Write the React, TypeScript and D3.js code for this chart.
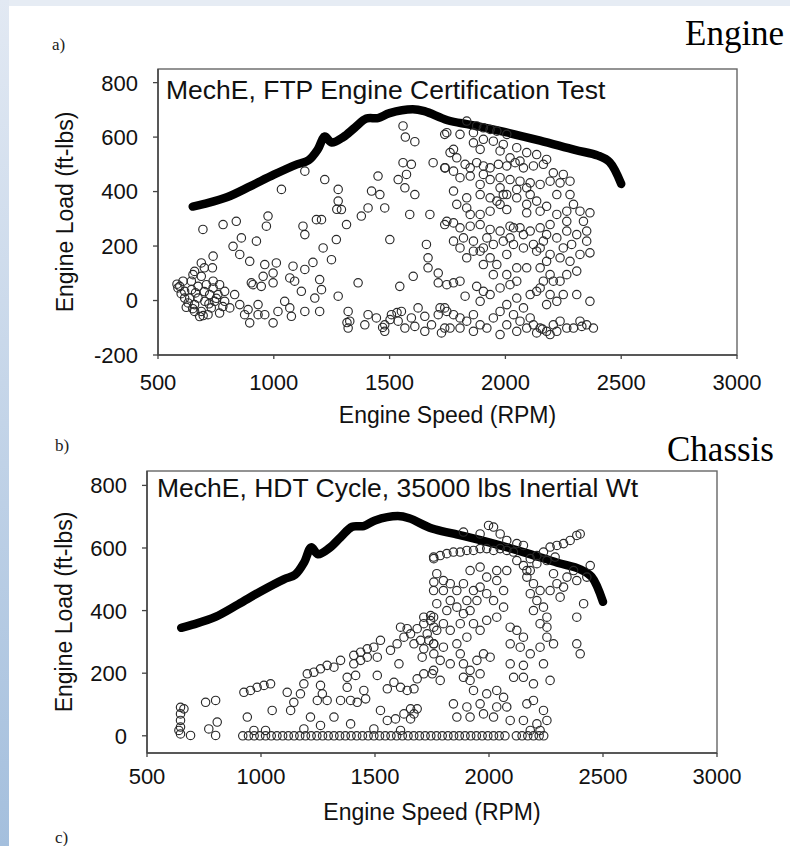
import React from 'react';
import * as d3 from 'd3';

type P = [number, number];

const xTicks = [500, 1000, 1500, 2000, 2500, 3000];
const yTicksA = [-200, 0, 200, 400, 600, 800];
const yTicksB = [0, 200, 400, 600, 800];

// full-load torque envelope (rpm, ft-lbs)
const envelope: P[] = [
  [650, 345], [700, 355], [800, 380], [900, 420], [1000, 462], [1100, 500], [1150, 515],
  [1190, 555], [1220, 602], [1250, 580], [1300, 600], [1350, 635], [1400, 668], [1450, 670],
  [1500, 688], [1600, 702], [1650, 695], [1750, 662], [1850, 645], [2000, 618], [2150, 587],
  [2300, 553], [2400, 532], [2450, 508], [2500, 428],
];

// FTP engine certification test points
const ftpPoints: P[] = [
  [1558, 641], [1568, 600], [1609, 583], [1558, 506], [1594, 500], [1573, 463], [1537, 444], [1566, 414],
  [1609, 389], [1688, 506], [1738, 487], [1450, 457], [1422, 402], [1458, 389], [1479, 340], [1407, 340],
  [1378, 310], [1587, 316], [1674, 316], [1738, 279], [1220, 444], [1278, 408], [1278, 365], [1292, 334],
  [1314, 279], [1270, 224], [1213, 193], [1249, 150], [1206, 297], [1184, 297], [1134, 475], [1033, 408],
  [975, 310], [968, 273], [1126, 273], [1134, 242], [838, 291], [781, 279], [694, 261], [860, 230],
  [824, 199], [853, 169], [925, 218], [738, 163], [687, 138], [658, 107], [896, 144], [961, 132],
  [1011, 138], [954, 89], [997, 101], [997, 65], [910, 58], [1083, 126], [1134, 114], [1069, 83],
  [1090, 71], [1119, 34], [1198, 77], [1206, 40], [1177, 9], [1198, -40], [1134, -40], [1076, -58],
  [1047, -3], [1069, -27], [1018, -40], [997, -82], [896, -82], [1364, 65], [1278, 16], [1544, 52],
  [1602, 89], [1666, 120], [1710, 101], [1710, 65], [1659, 206], [1666, 157], [1501, 224], [1169, 140],
  [1272, 335],
  [594, 52], [615, 34], [637, 9], [658, -15], [687, -40], [716, -52], [608, 71], [644, 71],
  [673, 52], [709, 58], [738, 46], [759, 22], [788, -3], [810, -27], [831, 22], [673, 9],
  [702, -3], [730, -27], [766, -46], [651, 95], [687, 89], [738, 71], [766, 58], [788, 34],
  [630, -9], [658, -40], [745, -3], [723, 22], [586, 46], [615, 9], [853, -15], [889, -33],
  [932, -15], [961, -52], [932, -52], [874, -52], [903, 65], [946, 52], [582, 60], [680, -59],
  [600, 25], [622, -25], [645, 40], [662, 28], [700, 33], [720, -12], [752, 8], [780, -22],
  [695, -55], [650, -30], [700, 120], [735, 120],
  [1321, -40], [1328, -76], [1321, -101], [1407, -52], [1443, -64], [1479, -89], [1508, -52], [1537, -76],
  [1566, -101], [1594, -64], [1623, -27], [1652, -58], [1681, -89], [1710, -52], [1738, -27], [1738, -101],
  [1724, -119], [1479, -113], [1393, -89], [1609, -95], [1652, -113], [1551, -40], [1738, 610], [1316, -81],
  [1470, -99], [1502, -70], [1532, -44],
  [1833, 659], [1876, 641], [1905, 634], [1934, 628], [1963, 622], [2006, 610], [1862, 616], [1804, 610],
  [1747, 616], [1905, 592], [1862, 579], [1948, 585], [1991, 573], [2049, 561], [2092, 543], [2135, 536],
  [2178, 518], [2063, 512], [2020, 524], [1977, 549], [1891, 555],
  [1776, 555], [1761, 543], [1740, 487], [1776, 475], [1826, 500], [1848, 487], [1876, 506], [1905, 494],
  [1934, 487], [1970, 500], [2006, 494], [2042, 506], [2078, 487], [2121, 494], [2164, 500], [2207, 469],
  [2250, 463], [2236, 432], [2193, 438], [2150, 426], [2107, 432], [2063, 438], [2020, 444], [1977, 451],
  [1934, 444], [1891, 426], [1848, 457], [1804, 451], [1776, 402], [1833, 377], [1891, 389], [1934, 377],
  [1963, 365], [2006, 389], [2049, 377], [2092, 353], [2135, 365], [2178, 346], [2279, 389], [2294, 353],
  [2322, 328], [2365, 322], [2265, 328], [2222, 316], [2092, 322], [2006, 334], [1977, 353], [1934, 328],
  [1891, 316], [1833, 340], [1790, 353], [1747, 291], [1776, 285], [1804, 267], [1848, 273], [1891, 279],
  [1934, 261], [1977, 255], [2020, 273], [2063, 267], [2107, 255], [2150, 267], [2178, 242], [2222, 230],
  [2265, 255], [2308, 242], [2351, 255], [2164, 218], [2121, 206], [2078, 193], [2035, 206], [1991, 218],
  [1948, 206], [1905, 193], [1862, 218], [1819, 230], [1776, 218], [1833, 157], [1862, 181], [1934, 157],
  [1905, 132], [1963, 132], [2006, 169], [2049, 120], [2006, 95], [2135, 181], [2193, 169], [2236, 157],
  [2279, 144], [2322, 169], [2365, 175], [2250, 193], [2351, 218], [2150, 120], [2193, 95], [2236, 71],
  [2265, 95], [2164, 71], [2135, 34], [2193, 22], [2222, -3], [2178, -15], [2308, 22], [2365, -3],
  [1747, 58], [1776, 65], [1804, 71], [1876, 52], [1905, 34], [1826, 16], [1891, -3], [1934, 22],
  [1977, 46], [2020, 58], [2049, 9], [2107, 22],
  [1790, 524], [1905, 463], [1977, 414], [2049, 408], [2107, 389], [2150, 328], [2222, 389], [2279, 438],
  [2193, 279], [2150, 193], [2078, 242], [2020, 230], [1920, 230], [1848, 316], [1804, 193], [1891, 181],
  [1948, 95], [2049, 71], [2092, 120], [2178, 144], [2308, 108], [2286, 206], [2337, 291], [2265, 291],
  [2092, 414], [1991, 389], [2035, 267], [2207, 71], [2250, 22], [2150, 46],
  [1718, -27], [1747, -40], [1776, -52], [1804, -64], [1833, -76], [1862, -52], [1891, -89], [1920, -101],
  [1948, -64], [1977, -40], [2006, -89], [2035, -52], [2063, -76], [2092, -101], [2121, -89], [2150, -101],
  [2178, -113], [2207, -89], [2236, -76], [2265, -101], [2351, -89], [2380, -101], [1761, -101], [1804, -101],
  [1862, -113], [1977, -125], [2049, -113], [2193, -125], [2222, -113], [2135, -119], [2330, -95], [2160, -105],
  [2078, -27], [2006, -15], [2107, -64], [2322, -76], [2294, -101],
];

// HDT chassis cycle points, row at zero load
const hdtZeroRow: P[] = [
  [920, 0], [945, 0], [970, 0], [995, 0], [1020, 0], [1045, 0], [1070, 0], [1095, 0], [1120, 0],
  [1145, 0], [1170, 0], [1195, 0], [1220, 0], [1245, 0], [1270, 0], [1295, 0], [1320, 0], [1345, 0],
  [1370, 0], [1395, 0], [1420, 0], [1445, 0], [1470, 0], [1495, 0], [1520, 0], [1545, 0], [1570, 0],
  [1595, 0], [1620, 0], [1645, 0], [1670, 0], [1695, 0], [1720, 0], [1745, 0], [1770, 0], [1795, 0],
  [1820, 0], [1845, 0], [1870, 0], [1895, 0], [1920, 0], [1945, 0], [1970, 0], [1995, 0], [2020, 0],
  [2045, 0], [2070, 0], [2120, 0], [2145, 0], [2170, 0], [2195, 0], [2220, 0], [2240, 0],
];

// HDT chassis cycle points, remaining
const hdtPoints: P[] = [
  [647, 91], [647, 70], [647, 49], [647, 28], [647, 6], [662, 86], [640, 17], [691, 1], [757, 107],
  [801, 113], [771, 22], [808, 44], [801, 1], [925, 139], [954, 145], [983, 155], [1013, 161], [1042, 166],
  [940, 60], [1049, 81], [1115, 139], [1144, 107], [1130, 81], [1173, 134], [1188, 166], [1203, 198],
  [1232, 203], [1261, 214], [1290, 225], [1320, 219], [1349, 241], [1261, 161], [1269, 134], [1290, 113],
  [1247, 113], [1217, 60], [1320, 60], [1349, 113], [1393, 113], [1422, 107], [1459, 118], [1451, 145],
  [1378, 187], [1415, 193], [1378, 155], [1407, 257], [1437, 267], [1466, 278], [1495, 283], [1524, 305],
  [1510, 251], [1466, 251], [1437, 241], [1407, 230], [1510, 193], [1554, 150], [1583, 171], [1612, 155],
  [1641, 145], [1671, 150], [1685, 182], [1568, 273], [1597, 294], [1627, 315], [1656, 326], [1685, 342],
  [1714, 358], [1744, 368], [1758, 347], [1729, 326], [1700, 305], [1714, 278], [1671, 294], [1641, 342],
  [1612, 347], [1605, 230], [1714, 198], [1751, 198], [1758, 566], [1758, 491], [1524, 81], [1554, 49],
  [1590, 54], [1627, 70], [1656, 86], [1685, 86], [1656, 54], [1671, 70], [969, 17], [1020, 17],
  [1188, 22], [1261, 33], [1393, 38], [1495, 22], [1612, 17], [1714, 379], [1744, 384], [1736, 305],
  [1758, 294], [1758, 262], [1707, 251],
  [1757, 571], [1786, 576], [1815, 582], [1844, 587], [1874, 587], [1903, 592], [1932, 592], [1961, 598],
  [1990, 598], [2020, 592], [2049, 598], [2078, 592], [2107, 587], [1888, 651], [1961, 645], [1998, 672],
  [2020, 667], [2049, 645], [2078, 624], [2122, 614], [2151, 608], [2181, 566], [2210, 576], [2239, 587],
  [2268, 603], [2298, 608], [2327, 614], [2356, 624], [2385, 640], [2400, 645], [2210, 550], [2254, 560],
  [2290, 571], [2122, 560], [2151, 544], [2166, 528], [2444, 544], [2429, 507], [2385, 496],
  [1771, 518], [1800, 496], [1757, 464], [1800, 464], [1830, 432], [1771, 422], [1815, 400], [1757, 379],
  [1800, 358], [1771, 337], [1830, 337], [1874, 358], [1888, 390], [1859, 411], [1903, 432], [1932, 464],
  [1961, 475], [1990, 454], [1947, 432], [1917, 400], [1932, 358], [1961, 337], [1903, 315], [1859, 294],
  [1800, 283], [1757, 294], [1786, 241], [1757, 209], [1786, 177], [1830, 230], [1874, 262], [1888, 230],
  [1917, 209], [1947, 241], [1976, 262], [2005, 251], [1961, 198], [1917, 177], [1888, 187], [1932, 145],
  [1990, 134], [2034, 145], [2064, 123], [2034, 92], [2078, 92], [1961, 102], [1903, 92], [1844, 102],
  [1859, 60], [1917, 60], [1976, 70], [2020, 60], [2093, 49], [2151, 49], [2166, 102], [2195, 113],
  [2239, 81], [2254, 49], [2210, 38], [2093, 347], [2122, 337], [2151, 315], [2093, 294], [2137, 283],
  [2181, 262], [2224, 283], [2283, 294], [2254, 315], [2093, 230], [2151, 225], [2195, 166], [2268, 177],
  [2108, 187], [2151, 187], [2385, 294], [2400, 262], [2415, 422], [2385, 379], [2239, 230], [2166, 507],
  [2195, 486], [2224, 464], [2181, 454], [2210, 432], [2239, 411], [2195, 400], [2254, 379], [2224, 358],
  [2254, 347], [2181, 528], [2283, 518], [2298, 486], [2327, 475], [2268, 464], [2312, 443], [2342, 507],
  [2371, 528], [2034, 496], [2064, 464], [2020, 432], [2064, 411], [2034, 379], [1990, 369], [2078, 528],
  [2034, 528], [1917, 528], [1961, 539], [1990, 507], [1859, 464], [1888, 486], [1830, 486], [2224, 17],
  [2181, 17],
];

const SANS = '"Liberation Sans", Arial, sans-serif';
const SERIF = '"Liberation Serif", "Times New Roman", serif';

interface PanelProps {
  left: number; right: number; top: number; bottom: number;
  yDomain: [number, number]; yTicks: number[];
  title: string; titleX: number; titleY: number;
  points: P[]; tickBaseline: number; xLabelBaseline: number; yLabelX: number;
}

function Panel(p: PanelProps) {
  const x = d3.scaleLinear().domain([500, 3000]).range([p.left, p.right]);
  const y = d3.scaleLinear().domain(p.yDomain).range([p.bottom, p.top]);
  const line = d3.line<P>().x(d => x(d[0])).y(d => y(d[1])).curve(d3.curveCatmullRom.alpha(0.5));
  const cx = (p.left + p.right) / 2;
  const cy = (p.top + p.bottom) / 2;
  return (
    <g>
      <path d={line(envelope) || ''} fill="none" stroke="#000" strokeWidth={8.5} strokeLinecap="round" strokeLinejoin="round" />
      {p.points.map((d, i) => (
        <circle key={i} cx={x(d[0])} cy={y(d[1])} r={4.2} fill="none" stroke="#2a2a2a" strokeWidth={1.15} />
      ))}
      <rect x={p.left} y={p.top} width={p.right - p.left} height={p.bottom - p.top} fill="none" stroke="#666" strokeWidth={1.4} />
      <line x1={p.left} x2={p.left} y1={p.top} y2={p.bottom} stroke="#444" strokeWidth={1.5} />
      <line x1={p.left} x2={p.right} y1={p.bottom} y2={p.bottom} stroke="#444" strokeWidth={1.5} />
      {p.yTicks.map(t => (
        <g key={'y' + t}>
          <line x1={p.left - 5} x2={p.left} y1={y(t)} y2={y(t)} stroke="#444" strokeWidth={1.3} />
          <text x={p.left - 20} y={y(t)} dy="0.36em" textAnchor="end" fontFamily={SANS} fontSize={22} fill="#111">{t}</text>
        </g>
      ))}
      {xTicks.map(t => (
        <g key={'x' + t}>
          <line x1={x(t)} x2={x(t)} y1={p.bottom} y2={p.bottom + 4} stroke="#444" strokeWidth={1.3} />
          <text x={x(t)} y={p.tickBaseline} textAnchor="middle" fontFamily={SANS} fontSize={22} fill="#111">{t}</text>
        </g>
      ))}
      <text x={p.titleX} y={p.titleY} fontFamily={SANS} fontSize={26.5} fill="#111">{p.title}</text>
      <text x={cx} y={p.xLabelBaseline} textAnchor="middle" fontFamily={SANS} fontSize={23} fill="#111">Engine Speed (RPM)</text>
      <text transform={`translate(${p.yLabelX},${cy}) rotate(-90)`} textAnchor="middle" fontFamily={SANS} fontSize={23} fill="#111">Engine Load (ft-lbs)</text>
    </g>
  );
}

export default function App() {
  return (
    <svg width={790} height={846} style={{ position: 'absolute', left: 0, top: 0, display: 'block' }}>
      <defs>
        <linearGradient id="side" x1="0" y1="0" x2="0" y2="1">
          <stop offset="0" stopColor="#e2e9f3" />
          <stop offset="1" stopColor="#a4bfdd" />
        </linearGradient>
      </defs>
      <rect x={0} y={0} width={790} height={846} fill="#ffffff" />
      <rect x={0} y={0} width={790} height={6} fill="#e6ecf4" />
      <rect x={0} y={0} width={9} height={846} fill="url(#side)" />
      <text x={52} y={50} fontFamily={SERIF} fontSize={17} fill="#222">a)</text>
      <text x={55} y={451} fontFamily={SERIF} fontSize={17} fill="#222">b)</text>
      <text x={55} y={843} fontFamily={SERIF} fontSize={17} fill="#222">c)</text>
      <text x={685} y={45} fontFamily={SERIF} fontSize={35} fill="#000">Engine</text>
      <text x={667} y={461} fontFamily={SERIF} fontSize={35} fill="#000">Chassis</text>
      <Panel left={158} right={737} top={69} bottom={355} yDomain={[-200, 850]} yTicks={yTicksA}
        title="MechE, FTP Engine Certification Test" titleX={166} titleY={99}
        points={ftpPoints} tickBaseline={390} xLabelBaseline={423} yLabelX={73} />
      <Panel left={147} right={717} top={471} bottom={753} yDomain={[-55, 846]} yTicks={yTicksB}
        title="MechE, HDT Cycle, 35000 lbs Inertial Wt" titleX={157} titleY={497}
        points={[...hdtZeroRow, ...hdtPoints]} tickBaseline={784} xLabelBaseline={820} yLabelX={72} />
    </svg>
  );
}
